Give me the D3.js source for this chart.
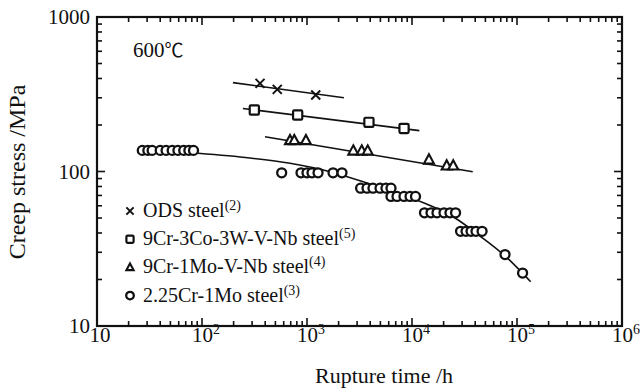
<!DOCTYPE html>
<html><head><meta charset="utf-8">
<script src="https://cdn.jsdelivr.net/npm/d3@7"></script>
<style>
html,body{margin:0;padding:0;background:#fff;}
text{font-family:"Liberation Serif","Times New Roman",serif;fill:#111;}
</style></head>
<body><svg id="c" width="640" height="390"></svg>
<script>
// ---- data ----
const odsTime = [357, 521, 1211];
const odsStress = [372, 340, 313];
const odsFitTime = [197, 2248];
const odsFitStress = [376, 300];

const sqTime = [315, 815, 3890, 8400];
const sqStress = [250, 232, 208, 190];
const sqFitTime = [245, 11750];
const sqFitStress = [256, 184];

const triTime = [689, 757, 977, 2760, 3320, 3785, 14500, 21400, 24700];
const triStress = [159, 159, 159, 136, 136, 136, 119, 109, 109];
const triFitTime = [398, 37900];
const triFitStress = [168, 99.7];

const cirTime = [27, 30.5, 33.5, 40, 45.5, 52, 59, 67, 75, 83,
  574, 877, 1000, 1116, 1274, 1770, 2154,
  3240, 3730, 4250, 4960, 5650, 6310,
  6310, 7200, 8390, 9580, 10800,
  13150, 15170, 17300, 20170, 23000, 26000,
  29000, 32700, 36500, 40700, 46500,
  76900, 113000];
const cirStress = [137, 137, 137, 137, 137, 137, 137, 137, 137, 137,
  98, 98, 98, 98, 98, 98, 98,
  78, 78, 78, 78, 78, 78,
  69, 69, 69, 69, 69,
  54, 54, 54, 54, 54, 54,
  41, 41, 41, 41, 41,
  29, 22];
const cirFitTime = [91.6, 286, 689, 1656, 3981, 7690, 14830, 25700, 44460, 76900, 134900];
const cirFitStress = [131.2, 122.3, 113, 99.7, 83, 71.5, 60.3, 50, 38.2, 28.4, 19.35];

const xTickValues = [10, 100, 1000, 10000, 100000, 1000000];
const xTickExp = ["", "2", "3", "4", "5", "6"];
const yTickValues = [10, 100, 1000];
const yTickLabels = ["10", "100", "1000"];

const legendNames = ["ODS steel", "9Cr-3Co-3W-V-Nb steel", "9Cr-1Mo-V-Nb steel", "2.25Cr-1Mo steel"];
const legendRefs = ["(2)", "(5)", "(4)", "(3)"];
const legendSymbols = ["x", "square", "triangle", "circle"];

// ---- layout ----
const L = 97, R = 622, T = 17, B = 326;
const svg = d3.select("#c");
const x = d3.scaleLog().domain([10, 1e6]).range([L, R]);
const y = d3.scaleLog().domain([10, 1000]).range([B, T]);

const ink = "#111";

function minorVals(lo, hi) {
  const v = [];
  for (let d = lo; d < hi; d *= 10) for (let k = 2; k <= 9; k++) v.push(d * k);
  return v;
}
const xMinor = minorVals(10, 1e6);
const yMinor = minorVals(10, 1000);

const MAJ = 8, MIN = 5;
const axG = svg.append("g").attr("stroke", ink).attr("stroke-width", 1.6);
function xTicks(vals, len) {
  vals.forEach(v => {
    axG.append("line").attr("x1", x(v)).attr("x2", x(v)).attr("y1", B).attr("y2", B - len);
    axG.append("line").attr("x1", x(v)).attr("x2", x(v)).attr("y1", T).attr("y2", T + len);
  });
}
function yTicks(vals, len) {
  vals.forEach(v => {
    axG.append("line").attr("y1", y(v)).attr("y2", y(v)).attr("x1", L).attr("x2", L + len);
    axG.append("line").attr("y1", y(v)).attr("y2", y(v)).attr("x1", R).attr("x2", R - len);
  });
}
xTicks(xTickValues, MAJ); xTicks(xMinor, MIN);
yTicks(yTickValues, MAJ); yTicks(yMinor, MIN);
svg.append("rect").attr("x", L).attr("y", T).attr("width", R - L).attr("height", B - T)
  .attr("fill", "none").attr("stroke", ink).attr("stroke-width", 2.2);

xTickValues.forEach((v, i) => {
  const t = svg.append("text").attr("x", x(v) + (i === 0 ? 3 : 4)).attr("y", 342)
    .attr("text-anchor", "middle").attr("font-size", 21);
  t.append("tspan").text("10");
  if (xTickExp[i]) t.append("tspan").attr("dy", -8).attr("font-size", 14).text(xTickExp[i]);
});
yTickValues.forEach((v, i) => {
  svg.append("text").attr("x", 90).attr("y", y(v) + 7).attr("text-anchor", "end")
    .attr("font-size", 21).text(yTickLabels[i]);
});

svg.append("text").attr("x", 384).attr("y", 383).attr("text-anchor", "middle")
  .attr("font-size", 22).text("Rupture time /h");
svg.append("text").attr("transform", "translate(25,172) rotate(-90)").attr("text-anchor", "middle")
  .attr("font-size", 24).text("Creep stress /MPa");

const tt = svg.append("text").attr("x", 133).attr("y", 57).attr("font-size", 21);
tt.append("tspan").text("600");
tt.append("tspan").attr("font-family", "Noto Sans CJK JP").attr("font-size", 19).text("℃");

const line = d3.line().x(d => x(d[0])).y(d => y(d[1]));
const curve = d3.line().x(d => x(d[0])).y(d => y(d[1])).curve(d3.curveMonotoneX);
function fit(ts, ss, gen) {
  svg.append("path").attr("d", gen(ts.map((t, i) => [t, ss[i]])))
    .attr("fill", "none").attr("stroke", ink).attr("stroke-width", 1.6);
}
fit(odsFitTime, odsFitStress, line);
fit(sqFitTime, sqFitStress, line);
fit(triFitTime, triFitStress, line);
fit(cirFitTime, cirFitStress, curve);

function marker(g, type, cx, cy, s) {
  if (type === "x") {
    g.append("path").attr("d", `M${cx - s},${cy - s}L${cx + s},${cy + s}M${cx - s},${cy + s}L${cx + s},${cy - s}`)
      .attr("stroke", ink).attr("stroke-width", 2).attr("fill", "none");
  } else if (type === "square") {
    g.append("rect").attr("x", cx - s).attr("y", cy - s).attr("width", 2 * s).attr("height", 2 * s)
      .attr("rx", 1.2).attr("fill", "#fff").attr("stroke", ink).attr("stroke-width", 2.2);
  } else if (type === "triangle") {
    g.append("path").attr("d", `M${cx},${cy - s * 1.1}L${cx + s},${cy + s * 0.75}L${cx - s},${cy + s * 0.75}Z`)
      .attr("fill", "#fff").attr("stroke", ink).attr("stroke-width", 2.1);
  } else {
    g.append("circle").attr("cx", cx).attr("cy", cy).attr("r", s)
      .attr("fill", "#fff").attr("stroke", ink).attr("stroke-width", 2.3);
  }
}
const mg = svg.append("g");
odsTime.forEach((t, i) => marker(mg, "x", x(t), y(odsStress[i]), 4.5));
sqTime.forEach((t, i) => marker(mg, "square", x(t), y(sqStress[i]), 4.6));
triTime.forEach((t, i) => marker(mg, "triangle", x(t), y(triStress[i]), 5));
cirTime.forEach((t, i) => marker(mg, "circle", x(t), y(cirStress[i]), 4.5));

const lg = svg.append("g");
legendNames.forEach((n, i) => {
  const yy = 217 + i * 28.2;
  marker(lg, legendSymbols[i], 130, yy - 6, legendSymbols[i] === "circle" ? 3.8 : 3.6);
  const t = lg.append("text").attr("x", 143).attr("y", yy).attr("font-size", 20);
  t.append("tspan").text(n);
  t.append("tspan").attr("dy", -7).attr("font-size", 14).text(legendRefs[i]);
});
</script></body></html>
